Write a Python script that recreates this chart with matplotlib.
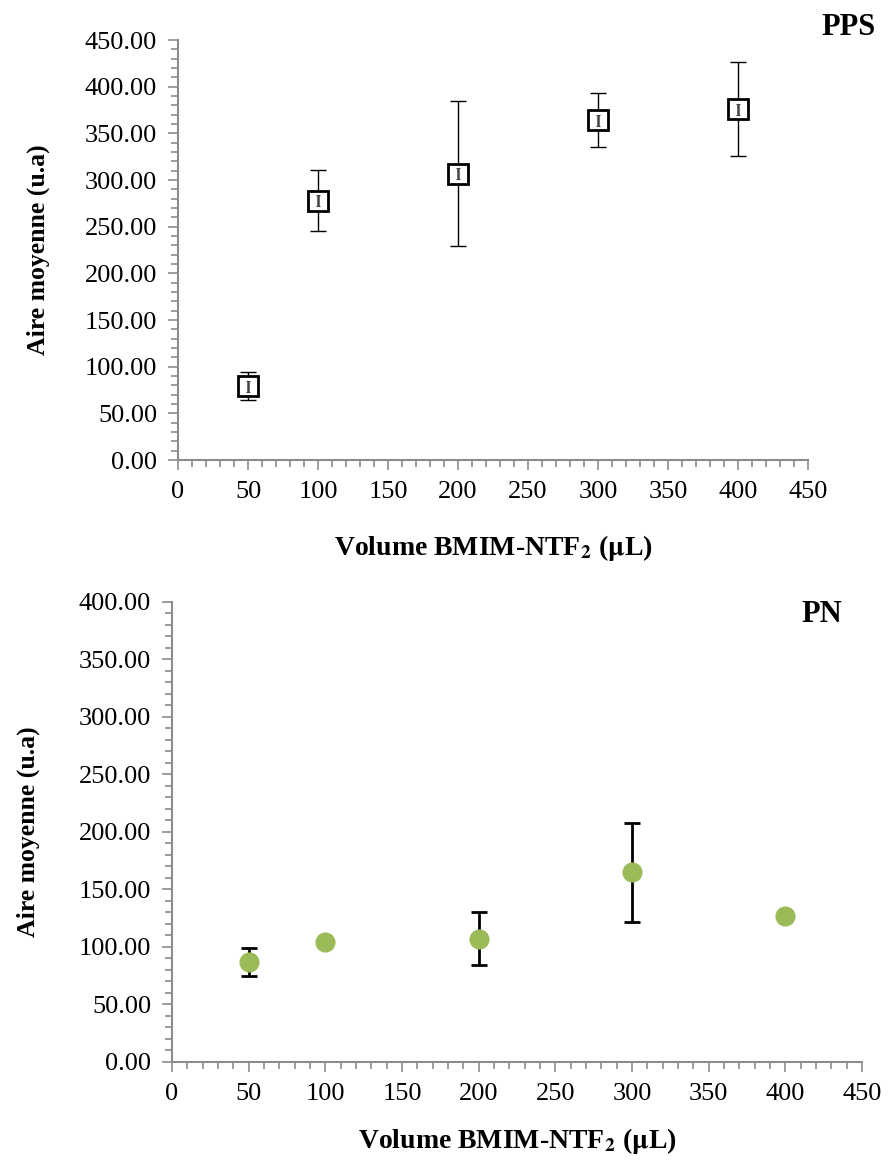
import numpy as np
import matplotlib
matplotlib.use('Agg')
import matplotlib.pyplot as plt
from matplotlib.ticker import MultipleLocator, FormatStrFormatter

# données PPS
vol_pps = [50, 100, 200, 300, 400]
aire_pps = [79, 278, 307, 364, 376]
err_pps = [15, 33, 78, 29, 50]
err_pps_int = [6, 6, 6, 6, 6]

# données PN
vol_pn = [50, 100, 200, 300, 400]
aire_pn = [87, 104, 107, 165, 127]
err_pn = [12, 0, 23, 43, 0]

plt.rcParams['font.family'] = ['Liberation Serif', 'DejaVu Serif']
plt.rcParams['mathtext.fontset'] = 'stix'

fig = plt.figure(figsize=(8.9, 11.62), dpi=100)
ax1 = fig.add_axes([0.2, 0.6041, 0.7079, 0.3614])
ax2 = fig.add_axes([0.1933, 0.0861, 0.7753, 0.3959])

gris = '#8c8c8c'
fs = 19

def style_axe(ax, ymax, xpad, ypad):
    ax.set_xlim(0, 450)
    ax.set_ylim(0, ymax)
    for s in ['top', 'right']:
        ax.spines[s].set_visible(False)
    for s in ['left', 'bottom']:
        ax.spines[s].set_color(gris)
        ax.spines[s].set_linewidth(1.5)
    ax.xaxis.set_major_locator(MultipleLocator(50))
    ax.xaxis.set_minor_locator(MultipleLocator(10))
    ax.yaxis.set_major_locator(MultipleLocator(50))
    ax.yaxis.set_minor_locator(MultipleLocator(10))
    ax.yaxis.set_major_formatter(FormatStrFormatter('%.2f'))
    ax.tick_params(which='both', direction='out', color=gris, width=1.2)
    ax.tick_params(which='major', length=7, labelsize=fs, pad=8)
    ax.tick_params(which='minor', length=5)
    ax.set_xlabel(r'Volume BMIM-NTF$_\mathbf{2}$ ($\mathbf{\mu}$L)',
                  fontsize=20, fontweight='bold', labelpad=xpad)
    ax.set_ylabel('Aire moyenne (u.a)', fontsize=18.5, fontweight='bold', labelpad=ypad)

# PPS
style_axe(ax1, 450, 22, 25)
ax1.errorbar(vol_pps, aire_pps, yerr=err_pps, fmt='none', ecolor='black',
             elinewidth=1, capsize=6, capthick=1, zorder=2)
ax1.plot(vol_pps, aire_pps, 's', ms=14, mfc='white', mec='black', mew=2, zorder=3)
ax1.errorbar(vol_pps, aire_pps, yerr=err_pps_int, fmt='none', ecolor='#444444',
             elinewidth=1.8, capsize=1.5, capthick=0.8, zorder=4)
ax1.text(1.065, 1.03, 'PPS', transform=ax1.transAxes, ha='center', va='center',
         fontsize=22, fontweight='bold')

# PN
style_axe(ax2, 400, 15, 28)
v_err = [v for v, e in zip(vol_pn, err_pn) if e > 0]
a_err = [a for a, e in zip(aire_pn, err_pn) if e > 0]
e_err = [e for e in err_pn if e > 0]
ax2.errorbar(v_err, a_err, yerr=e_err, fmt='none', ecolor='black',
             elinewidth=2, capsize=6, capthick=2, zorder=2)
ax2.plot(vol_pn, aire_pn, 'o', ms=13.5, color='#9bbb59', zorder=3)
ax2.text(0.942, 0.972, 'PN', transform=ax2.transAxes, ha='center', va='center',
         fontsize=22, fontweight='bold')

fig.savefig('out.png', dpi=100)
